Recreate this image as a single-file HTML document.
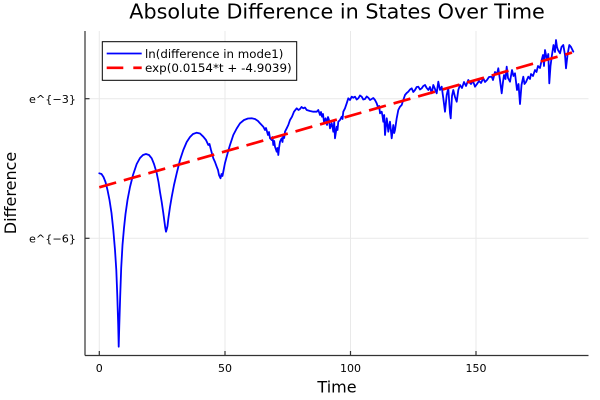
<!DOCTYPE html>
<html>
<head>
<meta charset="utf-8">
<style>
html,body{margin:0;padding:0;background:#fff;}
svg{display:block;}
text{font-family:"DejaVu Sans","Liberation Sans",sans-serif;fill:#000;}
</style>
</head>
<body>
<svg width="600" height="400" viewBox="0 0 600 400" xmlns="http://www.w3.org/2000/svg">
<rect x="0" y="0" width="600" height="400" fill="#fff"/>
<!-- grid -->
<g stroke="#e9e9e9" stroke-width="1" fill="none">
<line x1="99.3" y1="31" x2="99.3" y2="355.5"/>
<line x1="225" y1="31" x2="225" y2="355.5"/>
<line x1="350.5" y1="31" x2="350.5" y2="355.5"/>
<line x1="476" y1="31" x2="476" y2="355.5"/>
<line x1="85" y1="98.7" x2="588.5" y2="98.7"/>
<line x1="85" y1="238.3" x2="588.5" y2="238.3"/>
</g>
<!-- axes -->
<g stroke="#333" stroke-width="1.2" fill="none">
<line x1="85" y1="31" x2="85" y2="355.5"/>
<line x1="85" y1="355.5" x2="588.5" y2="355.5"/>
<line x1="85" y1="98.7" x2="89.5" y2="98.7"/>
<line x1="85" y1="238.3" x2="89.5" y2="238.3"/>
<line x1="99.3" y1="355.5" x2="99.3" y2="351"/>
<line x1="225" y1="355.5" x2="225" y2="351"/>
<line x1="350.5" y1="355.5" x2="350.5" y2="351"/>
<line x1="476" y1="355.5" x2="476" y2="351"/>
</g>
<!-- tick labels -->
<g font-size="11" text-anchor="middle">
<text x="99.3" y="372">0</text>
<text x="225" y="372">50</text>
<text x="350.5" y="372">100</text>
<text x="476" y="372">150</text>
</g>
<g font-size="11" text-anchor="end">
<text x="76" y="103" textLength="47" lengthAdjust="spacingAndGlyphs">e^{−3}</text>
<text x="76" y="242.6" textLength="47" lengthAdjust="spacingAndGlyphs">e^{−6}</text>
</g>
<!-- title & labels -->
<text x="129.3" y="18.5" font-size="20.3" textLength="415.5" lengthAdjust="spacingAndGlyphs">Absolute Difference in States Over Time</text>
<text x="337" y="392.7" font-size="16" text-anchor="middle">Time</text>
<text transform="translate(15.8,193) rotate(-90)" x="0" y="0" font-size="16" text-anchor="middle">Difference</text>
<!-- blue series -->
<polyline fill="none" stroke="#0000ff" stroke-width="1.8" stroke-linejoin="round" stroke-linecap="round" points="
99.3,173.3 101.5,174 103.5,177 105.5,182 107.5,190 109.5,200 111.5,213 113.3,230 115,250 116.3,270 117.3,296 118.2,325 118.7,346.7 119.3,325 120.2,296 121.2,268 122.5,245 124,228 125.5,214 127.5,200 130,187 133,175 136.7,164 140,158 143,155 146,154 149,155 151.7,158.3 154,164 156.7,173 158.5,182 160,192 161.7,202 163.3,213 164.5,222 165.3,228 166,231.7 166.8,229 167.5,226 168.3,219 170,207 171.7,197 174,185 176.7,173.3 180,160 183.3,150 186.7,142 190,137 193,134 196.7,132.7 200,133.5 203.3,136.7 206,140 208.3,145 209.5,144 211,150 213.3,158.3 215,162 216.7,166.7 218,170 219,175 220.5,178.3 221.5,174 222.5,176 223.3,171.7 225,163 226.7,156.7 228.5,150 230,145 233.3,135 236.7,128.5 240,123.3 244,120 248,118.5 251.7,118.3 255,119 258,121 260,123.3 263.3,126.7 265,130 266,128 268,135 269,132 270,138.3 271.7,140 272.5,137 273.3,145 274.2,141 275,146.7 276.7,151.7 277.5,148 278.3,155 279,148.3 280,141.7 281.7,138.3 282.5,142 283.3,135 284.2,138 285,131.7 286.7,128.3 288.3,125 290,120 292,116.7 294,111.7 296.7,108.3 298.5,110 300,109 301.5,107 303.3,108.3 305,107.5 306.7,110 310,111 313.3,111.7 316.7,111.7 318.3,110 320,115 321,112 322,116.7 323,114 324,121.7 325.7,118.3 327,125 328,117 329,120 330,128.3 331.7,123.3 332.5,127 333.3,131.7 334.2,122 335,138.3 336.7,126.7 337.5,130 338.3,121.7 340,120 341.7,116.7 342.5,119 343.3,111.7 345,108.3 346.7,103.3 348.3,98.3 350,100 351.7,96.7 353.3,97.7 355,96.7 356.7,99.5 358.3,98.3 360,95.5 361.7,96.7 363.3,99.5 365,99 366.7,96.5 368.3,97.7 370,100 371.7,99 373.3,98 375,100 376.7,103.3 378.3,108.3 379.2,106 380,113.3 381.7,111.7 382.5,116 383.3,121.7 384.2,115 385,135 386.7,118.3 387.5,124 388.3,131.7 389.2,126 390,121.7 391.7,138.3 393.3,125 394.2,133 395,130 396.7,118.3 398.3,110 400,106.7 401.7,105 403.3,100 405,95 406.7,93 408.3,91.7 410,89.5 411.7,88.3 413.3,92 415,90 416.7,87 418.3,86.7 420,89.5 421.7,88.3 423.3,86 425,85 426.7,88 428.3,90 430,87 431.7,93.3 433.3,85 435,89 436.7,93.3 438.3,81.7 440,90 441.7,86.7 443.3,98.3 445,111.7 446.7,95 448.3,88.3 450,113.3 450.7,118.3 452,96 453.3,90 455,97 456.7,101.7 458.3,90 460,85 462,88 464,82 466,86 468.3,80 470,83 471,84 473,81 475,86.7 477,84 479,81 481,83 483.3,78.3 485,82 487,80 489,77 491.7,76.7 493,80 495,72 497,74 498.3,68.3 500,80 501.7,93.3 503,82 504,75 505.5,79 506.7,66.7 508,78 510,81.7 512,70 513.5,76 515,73.3 517,90 518.5,84 520,104 521.5,85 523.3,76.7 524.5,84 526,82 528.3,76.7 530,79 531,74 533,76 535,70 536.5,72 538,66 540,68 541.7,60 543,55 544,66 545,50 547,60 548.3,54 549.3,83.3 550.5,66 551.7,56.7 553.5,45 555,52 556,40 557,47 558,50 560,53.3 561.5,47 563.3,45 565,55 566,68.3 567.5,55 569.3,45 571,47 573.3,51.7"/>
<!-- red fit line -->
<line x1="99.3" y1="187.3" x2="572" y2="52.6" stroke="#ff0000" stroke-width="2.7" stroke-dasharray="17.5 8"/>
<!-- legend -->
<rect x="102.3" y="41.7" width="194.4" height="38.6" fill="#fff" stroke="#000" stroke-width="1"/>
<line x1="106.7" y1="53.5" x2="141.7" y2="53.5" stroke="#0000ff" stroke-width="1.8"/>
<line x1="106.7" y1="67.8" x2="123.3" y2="67.8" stroke="#ff0000" stroke-width="2.7"/>
<line x1="133.3" y1="67.8" x2="141.7" y2="67.8" stroke="#ff0000" stroke-width="2.7"/>
<text x="145" y="58" font-size="11.5" textLength="138.3" lengthAdjust="spacingAndGlyphs">ln(difference in mode1)</text>
<text x="145" y="72" font-size="11.5" textLength="146.7" lengthAdjust="spacingAndGlyphs">exp(0.0154*t + -4.9039)</text>
</svg>
</body>
</html>
